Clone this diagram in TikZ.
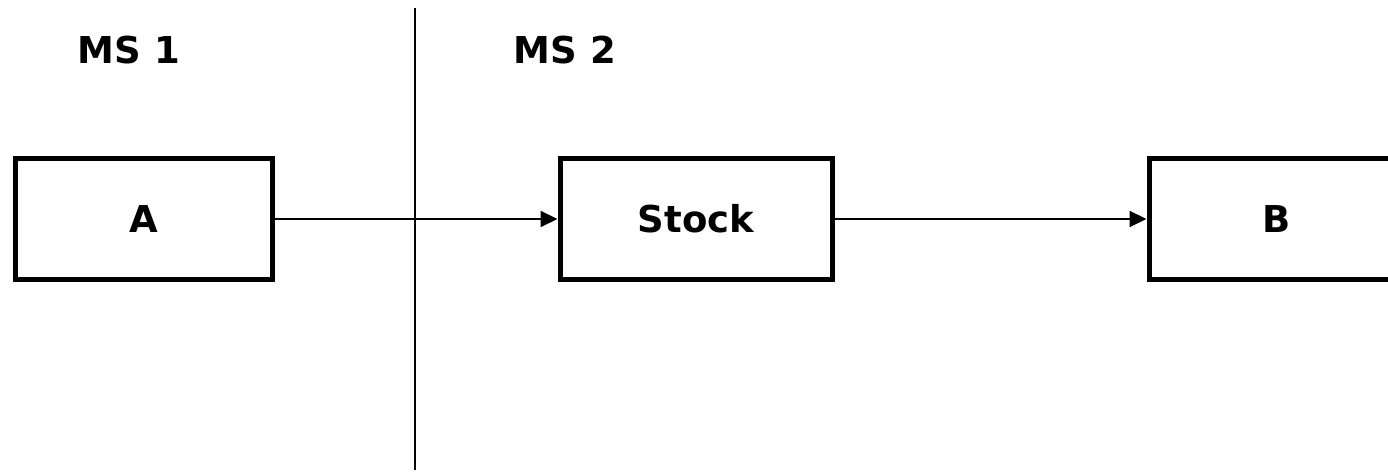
\documentclass[tikz,border=0pt]{standalone}
\usepackage{fontspec}
\setmainfont{DejaVu Sans}
\usetikzlibrary{arrows.meta}
\begin{document}
\begin{tikzpicture}[x=1pt,y=-1pt,
  blockbox/.style={draw,line width=5pt,minimum height=121pt,inner sep=0pt,
    font=\bfseries\fontsize{37}{40}\selectfont},
  flow/.style={line width=2pt,-{Triangle[length=17pt,width=16pt]}},
  title/.style={font=\bfseries\fontsize{37}{40}\selectfont,inner sep=0pt}]
  \useasboundingbox (0,0) rectangle (1388,474);
  \clip (0,0) rectangle (1388,474);
  % section divider
  \coordinate (dtop) at (415,8);
  \coordinate (dbot) at (415,470);
  \draw[line width=2pt] (dtop) -- (dbot);
  % section titles
  \node[title] (ms1) at (129,50) {MS 1};
  \node[title] (ms2) at (565,50) {MS 2};
  % blocks
  \node[blockbox,minimum width=257pt] (a) at (143.5,219) {A};
  \node[blockbox,minimum width=272pt] (stock) at (696,219) {Stock};
  \node[blockbox,minimum width=256pt] (b) at (1277,219) {B};
  % flows
  \draw[flow] (a.east) -- (stock.west);
  \draw[flow] (stock.east) -- (b.west);
\end{tikzpicture}
\end{document}
